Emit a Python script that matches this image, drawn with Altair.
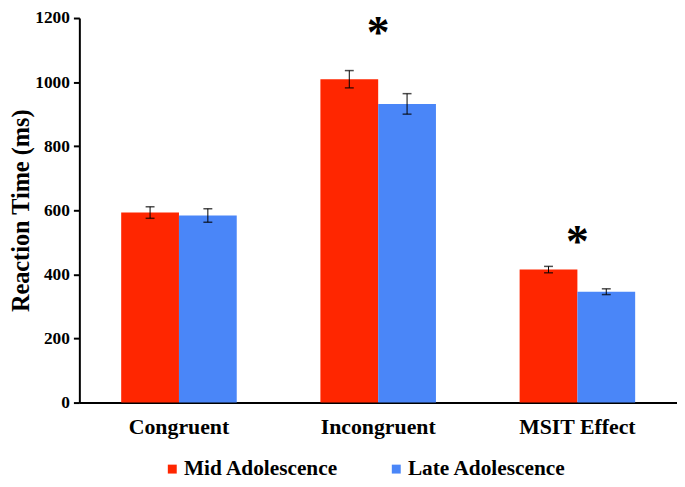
import altair as alt
import pandas as pd

conditions = ["Congruent", "Incongruent", "MSIT Effect"]
groups = ["Mid Adolescence", "Late Adolescence"]
mid_rt = [593, 1009, 415]
late_rt = [584, 932, 346]
mid_err = [18, 27, 10]
late_err = [21, 32, 9]
star_conditions = ["Incongruent", "MSIT Effect"]
star_y = [1182, 530]
colors = ["#FF2600", "#4A86F8"]

rows = []
for i, c in enumerate(conditions):
    rows.append({"condition": c, "group": groups[0], "rt": mid_rt[i],
                 "lo": mid_rt[i] - mid_err[i], "hi": mid_rt[i] + mid_err[i]})
    rows.append({"condition": c, "group": groups[1], "rt": late_rt[i],
                 "lo": late_rt[i] - late_err[i], "hi": late_rt[i] + late_err[i]})
df = pd.DataFrame(rows)
stars = pd.DataFrame({"condition": star_conditions, "y": star_y, "t": ["*"] * len(star_y)})

FONT = "Liberation Serif"

x_enc = alt.X("condition:N", sort=conditions,
              scale=alt.Scale(paddingInner=0.42, paddingOuter=0.21),
              axis=alt.Axis(title=None, labelAngle=0, ticks=False, labelPadding=14,
                            labelFontSize=22, labelFontWeight="bold", labelFont=FONT,
                            labelColor="black", domainColor="black", domainWidth=2))
xoff = alt.XOffset("group:N", sort=groups, scale=alt.Scale(paddingInner=0))
y_scale = alt.Scale(domain=[0, 1200])
y_axis = alt.Axis(title="Reaction Time (ms)", values=[0, 200, 400, 600, 800, 1000, 1200],
                  format="d", grid=False, tickSize=6, tickColor="black", tickWidth=2,
                  domainColor="black", domainWidth=2, labelFont=FONT,
                  labelFontSize=17.5, labelFontWeight="bold", labelColor="black",
                  labelPadding=4, titleFont=FONT, titleFontSize=24.5,
                  titleFontWeight="bold", titleColor="black", titlePadding=1)

base = alt.Chart(df)

bars = base.mark_bar().encode(
    x=x_enc,
    xOffset=xoff,
    y=alt.Y("rt:Q", scale=y_scale, axis=y_axis),
    color=alt.Color("group:N", sort=groups, scale=alt.Scale(domain=groups, range=colors),
                    legend=alt.Legend(title=None, orient="none", legendX=83, legendY=444,
                                      direction="horizontal", symbolType="square",
                                      symbolSize=81, symbolStrokeWidth=0,
                                      labelFont=FONT, labelFontSize=21.5, labelFontWeight="bold",
                                      labelColor="black", labelOffset=1, columnPadding=47)),
)

rules = base.mark_rule(color="black", strokeWidth=1).encode(
    x=alt.X("condition:N", sort=conditions),
    xOffset=xoff,
    y=alt.Y("lo:Q", scale=y_scale),
    y2="hi:Q",
)

caps_hi = base.mark_tick(color="black", orient="horizontal", size=9, thickness=1.5).encode(
    x=alt.X("condition:N", sort=conditions),
    xOffset=xoff,
    y=alt.Y("hi:Q", scale=y_scale),
)
caps_lo = base.mark_tick(color="black", orient="horizontal", size=9, thickness=1.5).encode(
    x=alt.X("condition:N", sort=conditions),
    xOffset=xoff,
    y=alt.Y("lo:Q", scale=y_scale),
)

star_text = alt.Chart(stars).mark_text(font=FONT, fontSize=46, fontWeight="bold",
                                       color="black", baseline="middle", dy=10).encode(
    x=alt.X("condition:N", sort=conditions),
    y=alt.Y("y:Q", scale=y_scale),
    text="t:N",
)

chart = alt.layer(bars, rules, caps_hi, caps_lo, star_text).properties(
    width=603, height=388,
    autosize=alt.AutoSizeParams(type="none"),
    padding={"left": 72, "top": 8, "right": 0, "bottom": 75},
).configure_view(stroke="transparent", strokeWidth=0)

chart.save("out.html", embed_options={"renderer": "svg", "actions": False})
